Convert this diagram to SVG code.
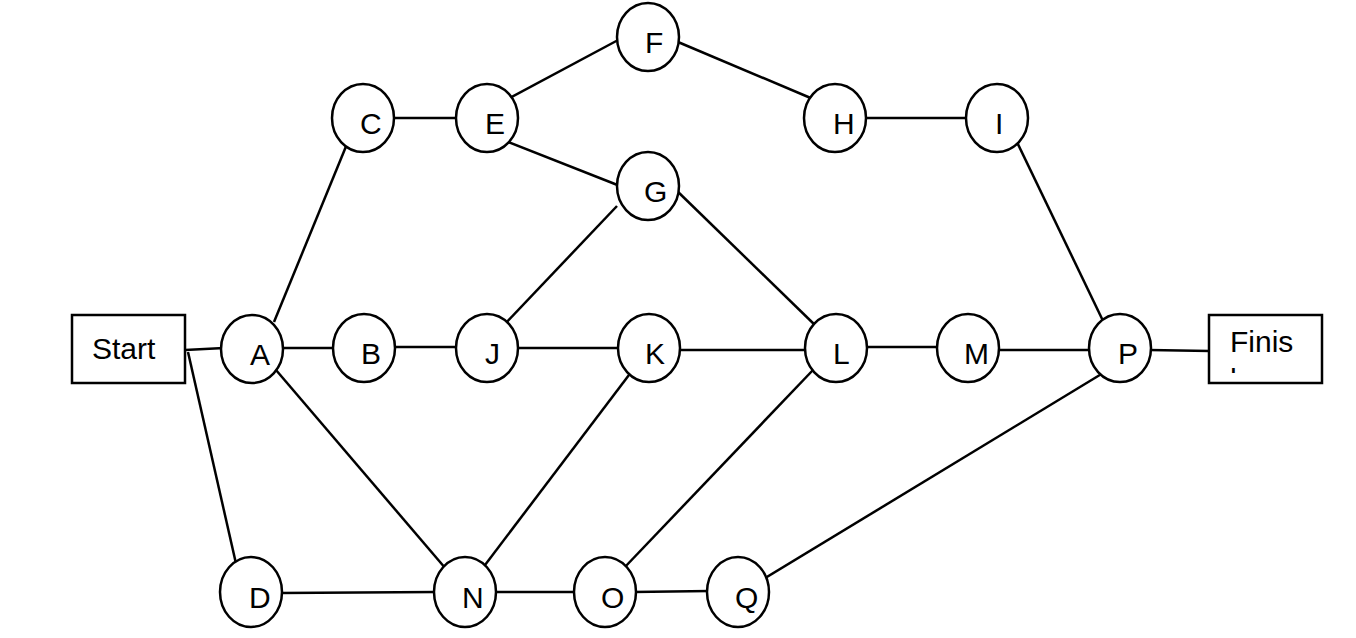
<svg xmlns="http://www.w3.org/2000/svg" width="1356" height="638" viewBox="0 0 1356 638">
<style>
.n ellipse{fill:#fff;stroke:#000;stroke-width:2.5}
.n rect{fill:#fff;stroke:#000;stroke-width:2.5}
.n text{font-family:"Liberation Sans",Arial,sans-serif;font-size:30px;fill:#000}
#edges line{stroke:#000;stroke-width:2.5}
</style>
<defs>
<clipPath id="finClip"><rect x="1210" y="317" width="110" height="56"/></clipPath>
</defs>
<rect width="1356" height="638" fill="#fff"/>
<g id="edges">
<line x1="185" y1="350" x2="224" y2="348"/>
<line x1="188" y1="352" x2="237" y2="568"/>
<line x1="274" y1="322" x2="347" y2="144"/>
<line x1="280" y1="348" x2="336" y2="348"/>
<line x1="276" y1="370" x2="446" y2="569"/>
<line x1="392" y1="118" x2="459" y2="118"/>
<line x1="508" y1="99" x2="620" y2="39"/>
<line x1="508" y1="142" x2="620" y2="186"/>
<line x1="678" y1="42" x2="813" y2="99"/>
<line x1="617" y1="206" x2="504" y2="325"/>
<line x1="674" y1="188" x2="817" y2="327"/>
<line x1="864" y1="118" x2="969" y2="118"/>
<line x1="1016" y1="140" x2="1105" y2="325"/>
<line x1="392" y1="347" x2="459" y2="347"/>
<line x1="516" y1="348" x2="621" y2="348"/>
<line x1="677" y1="350" x2="808" y2="350"/>
<line x1="632" y1="371" x2="482" y2="569"/>
<line x1="864" y1="347" x2="940" y2="347"/>
<line x1="813" y1="370" x2="624" y2="568"/>
<line x1="996" y1="350" x2="1092" y2="350"/>
<line x1="1149" y1="350" x2="1210" y2="351"/>
<line x1="1108" y1="370" x2="762" y2="580"/>
<line x1="280" y1="593" x2="437" y2="592"/>
<line x1="493" y1="592" x2="577" y2="592"/>
<line x1="633" y1="592" x2="710" y2="591"/>
</g>
<g id="Start" class="n"><rect x="72" y="315" width="113" height="68"/><text x="92" y="359">Start</text></g>
<g id="Finish" class="n"><rect x="1209" y="315" width="113" height="68"/><text x="1230" y="352">Finis</text><text x="1230" y="390" clip-path="url(#finClip)">h</text></g>
<g id="A" class="n"><ellipse cx="252" cy="349" rx="31" ry="34"/><text x="250" y="365">A</text></g>
<g id="B" class="n"><ellipse cx="364" cy="348" rx="31" ry="34"/><text x="361" y="364">B</text></g>
<g id="C" class="n"><ellipse cx="363" cy="118" rx="31" ry="34"/><text x="360" y="134">C</text></g>
<g id="D" class="n"><ellipse cx="251" cy="592" rx="31" ry="35"/><text x="249" y="608">D</text></g>
<g id="E" class="n"><ellipse cx="487" cy="118" rx="31" ry="34"/><text x="485" y="134">E</text></g>
<g id="F" class="n"><ellipse cx="648" cy="37" rx="31" ry="34"/><text x="645" y="53">F</text></g>
<g id="G" class="n"><ellipse cx="648" cy="186" rx="31" ry="34"/><text x="644" y="202">G</text></g>
<g id="H" class="n"><ellipse cx="835" cy="118" rx="31" ry="34"/><text x="833" y="134">H</text></g>
<g id="I" class="n"><ellipse cx="997" cy="118" rx="31" ry="34"/><text x="995" y="134">I</text></g>
<g id="J" class="n"><ellipse cx="487" cy="348" rx="31" ry="34"/><text x="485" y="364">J</text></g>
<g id="K" class="n"><ellipse cx="649" cy="348" rx="31" ry="34"/><text x="645" y="364">K</text></g>
<g id="L" class="n"><ellipse cx="836" cy="348" rx="31" ry="34"/><text x="833" y="364">L</text></g>
<g id="M" class="n"><ellipse cx="968" cy="348" rx="31" ry="34"/><text x="964" y="364">M</text></g>
<g id="N" class="n"><ellipse cx="465" cy="592" rx="31" ry="35"/><text x="462" y="608">N</text></g>
<g id="O" class="n"><ellipse cx="605" cy="592" rx="31" ry="35"/><text x="601" y="608">O</text></g>
<g id="P" class="n"><ellipse cx="1120" cy="348" rx="31" ry="34"/><text x="1118" y="364">P</text></g>
<g id="Q" class="n"><ellipse cx="738" cy="592" rx="31" ry="35"/><text x="735" y="608">Q</text></g>
</svg>
